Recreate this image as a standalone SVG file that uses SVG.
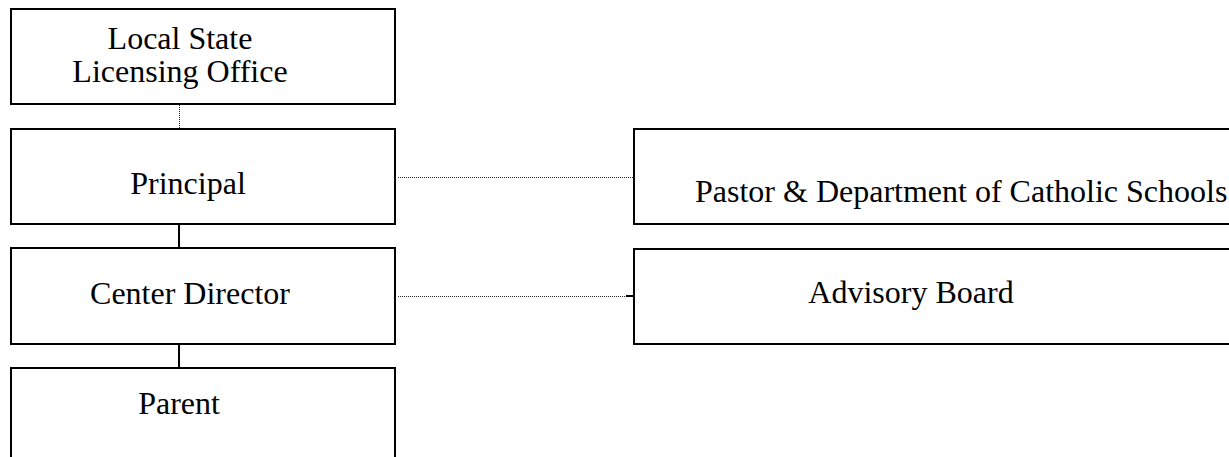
<svg xmlns="http://www.w3.org/2000/svg" width="1229" height="457" viewBox="0 0 1229 457">
<style>
.box{fill:#fff;stroke:#000;stroke-width:2}
.t{font-family:"Liberation Serif","Times New Roman",serif;font-size:32px;fill:#000;text-anchor:middle}
.dot{stroke:#222;stroke-width:1;stroke-dasharray:1 1;fill:none;shape-rendering:crispEdges}
.sol{stroke:#000;stroke-width:2;fill:none}
</style>
<rect width="1229" height="457" fill="#fff"/>
<g id="connectors">
<line class="dot" x1="179.5" y1="105" x2="179.5" y2="128"/>
<line class="sol" x1="179" y1="225" x2="179" y2="248"/>
<line class="sol" x1="179" y1="345" x2="179" y2="368"/>
<line class="dot" x1="398" y1="177.5" x2="633" y2="177.5"/>
<line class="dot" x1="398" y1="296.5" x2="626" y2="296.5"/>
<line class="sol" x1="626" y1="296" x2="634" y2="296"/>
</g>
<g id="local">
<rect class="box" x="11" y="9" width="384" height="95"/>
<text class="t" x="180" y="49">Local State</text>
<text class="t" x="180" y="82">Licensing Office</text>
</g>
<g id="principal">
<rect class="box" x="11" y="129" width="384" height="95"/>
<text class="t" x="188" y="194">Principal</text>
</g>
<g id="director">
<rect class="box" x="11" y="248" width="384" height="96"/>
<text class="t" x="190" y="304">Center Director</text>
</g>
<g id="parent">
<rect class="box" x="11" y="368" width="384" height="100"/>
<text class="t" x="179" y="414">Parent</text>
</g>
<g id="pastor">
<rect class="box" x="634" y="129" width="620" height="95"/>
<text class="t" x="695" y="202" style="text-anchor:start">Pastor &amp; Department of Catholic Schools</text>
</g>
<g id="advisory">
<rect class="box" x="634" y="249" width="620" height="95"/>
<text class="t" x="911" y="303">Advisory Board</text>
</g>
</svg>
